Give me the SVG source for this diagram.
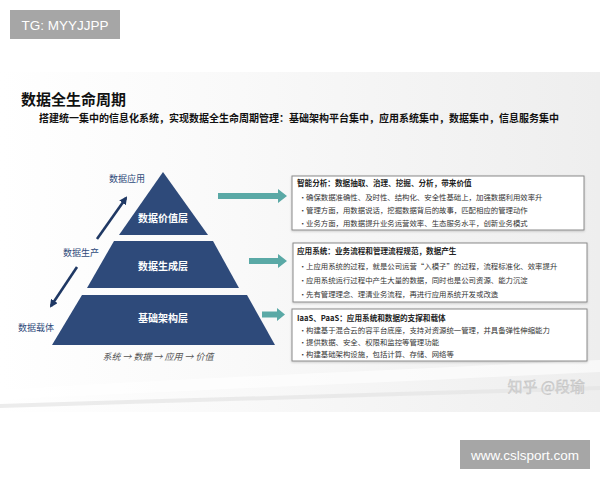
<svg xmlns="http://www.w3.org/2000/svg" width="600" height="480" viewBox="0 0 600 480">
<defs>
<linearGradient id="bg" x1="0" y1="0" x2="1" y2="0">
<stop offset="0" stop-color="#ffffff"/>
<stop offset="0.4" stop-color="#f9f9f9"/>
<stop offset="1" stop-color="#eeeeee"/>
</linearGradient>
<marker id="navyHead" markerWidth="8" markerHeight="8" refX="6" refY="4" orient="auto" markerUnits="userSpaceOnUse">
<path d="M0,0 L8,4 L0,8 Z" fill="#1f3864"/>
</marker>
<filter id="sh" x="-5%" y="-10%" width="110%" height="130%">
<feDropShadow dx="0" dy="1" stdDeviation="1" flood-color="#000" flood-opacity="0.18"/>
</filter>
</defs>
<style>
.cjk{font-family:"Noto Sans CJK SC","Noto Sans",sans-serif}
.lvl{fill:#2e4a7a}
.lvlt{font-family:"Noto Sans CJK SC",sans-serif;font-size:10px;font-weight:bold;fill:#ffffff;text-anchor:middle}
.side{font-family:"Noto Sans CJK SC",sans-serif;font-size:9px;fill:#2e4a7a}
.box{fill:#ffffff;stroke:#8a8a8a;stroke-width:1}
.hd{font-family:"Noto Sans CJK SC",sans-serif;font-size:7.6px;font-weight:bold;fill:#222}
.bl{font-family:"Noto Sans CJK SC",sans-serif;font-size:7.4px;fill:#333}
.teal{fill:#5aa9a6}
.conn{stroke:#1f3864;stroke-width:2.6;fill:none}
</style>
<rect width="600" height="480" fill="#ffffff"/>
<rect x="0" y="72" width="600" height="340" fill="url(#bg)"/>
<path d="M0,390 C150,380 350,372 600,360 L600,372 C350,384 150,392 0,400 Z" fill="#ffffff" opacity="0.6"/>
<path d="M0,404 C200,398 400,392 600,386 L600,390 C400,396 200,402 0,408 Z" fill="#e4e4e4" opacity="0.7"/>

<g id="tag">
<rect x="10" y="10" width="110" height="29" fill="#a6a6a6"/>
<text x="65" y="29.5" font-family="Liberation Sans,Arial,sans-serif" font-size="13.5" fill="#ffffff" text-anchor="middle">TG: MYYJJPP</text>
</g>

<g id="title">
<text x="21" y="105" class="cjk" font-size="15" font-weight="bold" fill="#111">数据全生命周期</text>
<text x="39" y="122" class="cjk" font-size="10" font-weight="bold" fill="#111">搭建统一集中的信息化系统，实现数据全生命周期管理：基础架构平台集中，应用系统集中，数据集中，信息服务集中</text>
</g>

<g id="layer-value">
<polygon class="lvl" points="163,172 208,235 119,235"/>
<text class="lvlt" x="163" y="222">数据价值层</text>
</g>
<g id="layer-gen">
<polygon class="lvl" points="114,241 213,241 239,288 87,288"/>
<text class="lvlt" x="163" y="270">数据生成层</text>
</g>
<g id="layer-base">
<polygon class="lvl" points="82,295 247,295 275,345 52,345"/>
<text class="lvlt" x="163" y="322">基础架构层</text>
</g>

<g id="label-app"><text class="side" x="109" y="182">数据应用</text></g>
<g id="label-prod"><text class="side" x="63" y="256">数据生产</text></g>
<g id="label-carrier"><text class="side" x="18" y="331">数据载体</text></g>

<g id="caption">
<text x="158" y="360" class="cjk" font-size="9" font-style="italic" fill="#555" text-anchor="middle">系统 → 数据 → 应用 → 价值</text>
</g>

<g id="box-analysis">
<rect class="box" x="292" y="176" width="292" height="54" filter="url(#sh)"/>
<text class="hd" x="297" y="186">智能分析：数据抽取、治理、挖掘、分析，带来价值</text>
<text class="bl" x="299" y="200">•</text><text class="bl" x="306" y="200">确保数据准确性、及时性、结构化、安全性基础上，加强数据利用效率升</text>
<text class="bl" x="299" y="213">•</text><text class="bl" x="306" y="213">管理方面，用数据说话，挖掘数据背后的故事，匹配相应的管理动作</text>
<text class="bl" x="299" y="226">•</text><text class="bl" x="306" y="226">业务方面，用数据提升业务运营效率、生态服务水平，创新业务模式</text>
</g>
<g id="box-apps">
<rect class="box" x="293" y="243" width="294" height="59" filter="url(#sh)"/>
<text class="hd" x="297" y="254">应用系统：业务流程和管理流程规范，数据产生</text>
<text class="bl" x="299" y="269">•</text><text class="bl" x="306" y="269">上应用系统的过程，就是公司运营“入模子”的过程，流程标准化、效率提升</text>
<text class="bl" x="299" y="283">•</text><text class="bl" x="306" y="283">应用系统运行过程中产生大量的数据，同时也是公司资源、能力沉淀</text>
<text class="bl" x="299" y="297">•</text><text class="bl" x="306" y="297">先有管理理念、理清业务流程，再进行应用系统开发或改造</text>
</g>
<g id="box-infra">
<rect class="box" x="292" y="309" width="295" height="52" filter="url(#sh)"/>
<text class="hd" x="297" y="321">IaaS、PaaS：应用系统和数据的支撑和载体</text>
<text class="bl" x="299" y="333">•</text><text class="bl" x="306" y="333">构建基于混合云的容平台底座，支持对资源统一管理，并具备弹性伸缩能力</text>
<text class="bl" x="299" y="345">•</text><text class="bl" x="306" y="345">提供数据、安全、权限和监控等管理功能</text>
<text class="bl" x="299" y="357">•</text><text class="bl" x="306" y="357">构建基础架构设施，包括计算、存储、网络等</text>
</g>

<g id="connectors">
<line class="conn" x1="97" y1="239" x2="126" y2="198" marker-end="url(#navyHead)"/>
<line class="conn" x1="77" y1="267" x2="51" y2="306" marker-end="url(#navyHead)"/>
<polygon class="teal" points="218,193 278,193 278,189 287,196 278,203 278,199 218,199"/>
<polygon class="teal" points="249,258 278,258 278,254 287,261 278,268 278,264 249,264"/>
<polygon class="teal" points="262,311.5 277,311.5 277,308 285,314.5 277,321 277,317.5 262,317.5"/>
</g>

<g id="watermark">
<text x="585" y="392" class="cjk" font-size="15" fill="#d4d4d4" stroke="#bdbdbd" stroke-width="0.3" text-anchor="end">知乎 @段瑜</text>
</g>

<g id="site">
<rect x="460" y="440" width="130" height="29" fill="#a6a6a6"/>
<text x="525" y="459.5" font-family="Liberation Sans,Arial,sans-serif" font-size="13.5" fill="#ffffff" text-anchor="middle">www.cslsport.com</text>
</g>
</svg>
